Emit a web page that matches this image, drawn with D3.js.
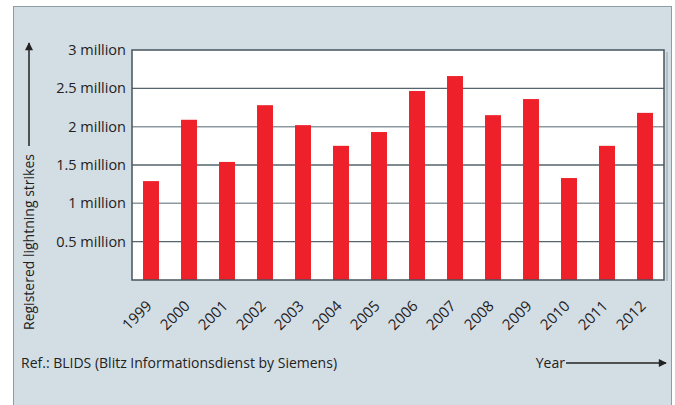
<!DOCTYPE html>
<meta charset="utf-8">
<style>
    body { margin: 0; background: #fff; }
    .tick text, .lbl { font-family: 'Open Sans', sans-serif; fill: #222; }
</style>
<body>
<script src="https://cdn.jsdelivr.net/npm/d3@7"></script>
<script>
    // data
    var years = ["1999", "2000", "2001", "2002", "2003", "2004", "2005",
                 "2006", "2007", "2008", "2009", "2010", "2011", "2012"]
    var strikes = [1.29, 2.09, 1.54, 2.28, 2.02, 1.75, 1.93,
                   2.465, 2.66, 2.15, 2.36, 1.33, 1.75, 2.18]   // millions
    var yTicks = [0.5, 1, 1.5, 2, 2.5, 3]
    var yTickLabels = ["0.5 million", "1 million", "1.5 million", "2 million", "2.5 million", "3 million"]

    var width = 675,
        height = 405

    var svg = d3.select("body").append("svg")
        .attr("width", width)
        .attr("height", height)

    // panel
    svg.append("rect")
        .attr("x", 13.5).attr("y", 6.5)
        .attr("width", 658).attr("height", 410)
        .attr("fill", "#d3dde4")
        .attr("stroke", "#8e9ca6")
        .attr("stroke-width", 1)

    var pLeft = 132, pRight = 664, pTop = 50, pBottom = 280

    var x = d3.scaleBand()
        .domain(years)
        .range([pLeft, pRight])
        .paddingInner(0.58)
        .paddingOuter(0.29)

    var y = d3.scaleLinear()
        .domain([0, 3])
        .range([pBottom, pTop])

    // plot background
    svg.append("rect")
        .attr("x", pLeft).attr("y", pTop)
        .attr("width", pRight - pLeft).attr("height", pBottom - pTop)
        .attr("fill", "#fff")

    // gridlines
    svg.append("g").selectAll("line")
        .data(yTicks.filter(function(d) { return d < 3 }))
        .enter().append("line")
        .attr("x1", pLeft).attr("x2", pRight)
        .attr("y1", function(d) { return y(d) })
        .attr("y2", function(d) { return y(d) })
        .attr("stroke", function(d, i) { return i % 2 ? "#8d999f" : "#56656d" })
        .attr("stroke-width", function(d, i) { return i % 2 ? 1.5 : 1.4 })

    // bars
    svg.append("g").selectAll("rect")
        .data(strikes)
        .enter().append("rect")
        .attr("x", function(d, i) { return x(years[i]) })
        .attr("width", x.bandwidth())
        .attr("y", function(d) { return y(d) })
        .attr("height", function(d) { return pBottom - y(d) })
        .attr("fill", "#ee2029")

    // frame
    svg.append("line")
        .attr("x1", pRight + 3).attr("x2", pRight + 3)
        .attr("y1", pTop + 2).attr("y2", pBottom + 1)
        .attr("stroke", "#b3bec5").attr("stroke-width", 2)
    svg.append("rect")
        .attr("x", pLeft).attr("y", pTop)
        .attr("width", pRight - pLeft).attr("height", pBottom - pTop)
        .attr("fill", "none")
        .attr("stroke", "#44545d")
        .attr("stroke-width", 1.5)

    // y axis labels
    var yAxis = d3.axisLeft(y)
        .tickValues(yTicks)
        .tickSize(0)
        .tickPadding(6)
        .tickFormat(function(d, i) { return yTickLabels[i] })

    svg.append("g")
        .attr("transform", "translate(" + pLeft + ",0)")
        .call(yAxis)
        .call(function(g) { g.select(".domain").remove() })
        .selectAll("text")
        .style("font-size", "14.5px")

    // x axis labels
    var xAxis = d3.axisBottom(x).tickSize(0)

    svg.append("g")
        .attr("transform", "translate(0," + pBottom + ")")
        .call(xAxis)
        .call(function(g) { g.select(".domain").remove() })
        .selectAll("text")
        .style("font-size", "15px")
        .attr("text-anchor", "end")
        .attr("dy", "0.35em")
        .attr("transform", "translate(-4,21) rotate(-45)")

    // arrow marker
    svg.append("defs").append("marker")
        .attr("id", "arr")
        .attr("viewBox", "0 0 10 10")
        .attr("refX", 9).attr("refY", 5)
        .attr("markerWidth", 10).attr("markerHeight", 8)
        .attr("markerUnits", "userSpaceOnUse")
        .attr("orient", "auto")
        .append("path")
        .attr("d", "M0,0L10,5L0,10z")
        .attr("fill", "#222")

    // y title
    svg.append("text")
        .attr("class", "lbl")
        .attr("transform", "translate(34,330) rotate(-90)")
        .style("font-size", "14px")
        .text("Registered lightning strikes")

    svg.append("line")
        .attr("x1", 29).attr("x2", 29)
        .attr("y1", 146).attr("y2", 43)
        .attr("stroke", "#222").attr("stroke-width", 1.5)
        .attr("marker-end", "url(#arr)")

    // x title
    svg.append("text")
        .attr("class", "lbl")
        .attr("x", 565).attr("y", 368)
        .attr("text-anchor", "end")
        .style("font-size", "14px")
        .text("Year")

    svg.append("line")
        .attr("x1", 566).attr("x2", 666)
        .attr("y1", 363).attr("y2", 363)
        .attr("stroke", "#222").attr("stroke-width", 1.5)
        .attr("marker-end", "url(#arr)")

    // source
    svg.append("text")
        .attr("class", "lbl")
        .attr("x", 21).attr("y", 368)
        .style("font-size", "14px")
        .text("Ref.: BLIDS (Blitz Informationsdienst by Siemens)")
</script>
